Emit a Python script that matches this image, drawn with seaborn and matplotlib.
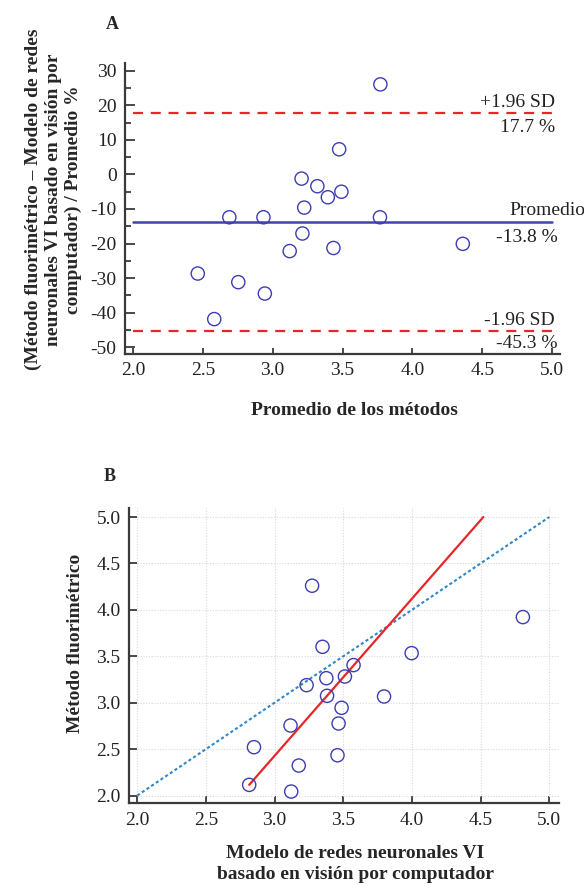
import numpy as np
import pandas as pd
import matplotlib
matplotlib.use("Agg")
import matplotlib.pyplot as plt
import seaborn as sns
from matplotlib.ticker import MultipleLocator

# ---------------- data ----------------
# Panel A (Bland-Altman)
ba_mean_x = [3.771, 3.476, 3.207, 3.320, 3.395, 3.492, 3.226, 2.690, 2.934,
             3.768, 3.213, 3.122, 3.435, 4.361, 2.464, 2.754, 2.944, 2.582]
ba_diff_pct = [26.1, 7.3, -1.2, -3.4, -6.6, -5.0, -9.6, -12.4, -12.4,
               -12.4, -17.1, -22.2, -21.3, -20.1, -28.7, -31.2, -34.5, -41.9]
ba_mean_diff = -13.8
ba_upper = 17.7
ba_lower = -45.3

# Panel B (method comparison)
nn_model = [3.273, 4.808, 3.349, 3.998, 3.575, 3.512, 3.377, 3.233, 3.382,
            3.797, 3.488, 3.116, 3.466, 2.850, 3.458, 3.176, 2.815, 3.121]
fluor = [4.260, 3.922, 3.602, 3.534, 3.405, 3.282, 3.264, 3.189, 3.074,
         3.067, 2.945, 2.754, 2.776, 2.521, 2.434, 2.323, 2.115, 2.043]
reg_x = [2.815, 4.52]
reg_y = [2.115, 5.0]
ident = [2.0, 5.0]

dfA = pd.DataFrame({"x": ba_mean_x, "y": ba_diff_pct})
dfB = pd.DataFrame({"x": nn_model, "y": fluor})

# ---------------- style ----------------
sns.set_style("ticks")
plt.rcParams["font.family"] = ["Liberation Serif", "DejaVu Serif"]
plt.rcParams["axes.unicode_minus"] = False

MARK = "#3d3db3"
MEANC = "#4343a6"
RED = "#e8262a"
DOT = "#2f86c8"
SPINE = "#3a3a3a"
TICK_FS = 14
LAB_FS = 14
TXT_FS = 14

fig = plt.figure(figsize=(5.84, 8.86), dpi=100)

def style_axes(ax, ylen=7, ylen_minor=4.5, xlen=4.5):
    for s in ["top", "right"]:
        ax.spines[s].set_visible(False)
    for s in ["left", "bottom"]:
        ax.spines[s].set_color(SPINE)
        ax.spines[s].set_linewidth(1.6)
    ax.tick_params(which="both", direction="in", color=SPINE, width=1.3,
                   labelsize=TICK_FS, labelcolor="#222222")
    ax.tick_params(axis="y", which="major", length=ylen, pad=6)
    ax.tick_params(axis="y", which="minor", length=ylen_minor)
    ax.tick_params(axis="x", which="major", length=xlen, pad=6)

# ---------------- Panel A ----------------
axA = fig.add_axes([0.214, 0.6005, 0.745, 0.3288])
sns.scatterplot(data=dfA, x="x", y="y", ax=axA, marker="o", s=90,
                facecolor="none", edgecolor=MARK, linewidth=1.0, zorder=3)
axA.plot(ident, [ba_mean_diff] * 2, color=MEANC, lw=1.8, zorder=2)
axA.plot(ident, [ba_upper] * 2, color=RED, lw=1.6, dashes=(4.5, 3.5), zorder=2)
axA.plot(ident, [ba_lower] * 2, color=RED, lw=1.6, dashes=(4.5, 3.5), zorder=2)
axA.set_xlim(1.943, 5.057)
axA.set_ylim(-52.0, 32.4)
axA.xaxis.set_major_locator(MultipleLocator(0.5))
axA.yaxis.set_major_locator(MultipleLocator(10))
axA.yaxis.set_minor_locator(MultipleLocator(5))
axA.set_xticks(axA.get_xticks())
axA.set_xticklabels([f"{v:.1f}" for v in axA.get_xticks()])
axA.set_xlim(1.943, 5.057)
style_axes(axA)
axA.set_xlabel("Promedio de los métodos", fontsize=LAB_FS, fontweight="bold")
axA.xaxis.set_label_coords(0.528, -0.166)
axA.set_ylabel("(Método fluorimétrico – Modelo de redes\n"
               "neuronales VI basado en visión por\n"
               "computador) / Promedio %", fontsize=LAB_FS, fontweight="bold",
               linespacing=1.22)
axA.yaxis.set_label_coords(-0.098, 0.53)
txt_kw = dict(fontsize=TXT_FS, ha="right", va="center", color="#222222",
              clip_on=False)
axA.text(5.02, 20.8, "+1.96 SD", **txt_kw)
axA.text(5.02, 13.6, f"{ba_upper:.1f} %", **txt_kw)
axA.text(5.235, -10.5, "Promedio", **txt_kw)
axA.text(5.04, -18.2, f"{ba_mean_diff:.1f} %", **txt_kw)
axA.text(5.02, -42.4, "-1.96 SD", **txt_kw)
axA.text(5.04, -48.9, f"{ba_lower:.1f} %", **txt_kw)
fig.text(0.193, 0.9718, "A", fontsize=13, fontweight="bold", ha="center",
         va="center")

# ---------------- Panel B ----------------
axB = fig.add_axes([0.2209, 0.0933, 0.7368, 0.333])
axB.grid(True, which="major", color="#d9d9d9", lw=0.8, ls=(0, (1, 1.5)))
sns.lineplot(x=ident, y=ident, ax=axB, color=DOT, lw=1.5,
             linestyle=(0, (1.5, 1.2)), zorder=2)
sns.lineplot(x=reg_x, y=reg_y, ax=axB, color=RED, lw=1.6, zorder=2)
sns.scatterplot(data=dfB, x="x", y="y", ax=axB, marker="o", s=90,
                facecolor="none", edgecolor=MARK, linewidth=1.0, zorder=3)
axB.set_xticks(np.arange(2.0, 5.01, 0.5))
axB.set_yticks(np.arange(2.0, 5.01, 0.5))
axB.set_xticklabels([f"{v:.1f}" for v in axB.get_xticks()])
axB.set_yticklabels([f"{v:.1f}" for v in axB.get_yticks()])
axB.set_xlim(1.94, 5.073)
axB.set_ylim(1.916, 5.094)
style_axes(axB, ylen=6, xlen=5)
axB.set_xlabel("Modelo de redes neuronales VI\nbasado en visión por computador",
               fontsize=LAB_FS, fontweight="bold", linespacing=1.3)
axB.xaxis.set_label_coords(0.526, -0.142)
axB.set_ylabel("Método fluorimétrico", fontsize=LAB_FS, fontweight="bold")
axB.yaxis.set_label_coords(-0.105, 0.543)
fig.text(0.188, 0.462, "B", fontsize=13, fontweight="bold", ha="center",
         va="center")

fig.savefig("out.png", dpi=100)
